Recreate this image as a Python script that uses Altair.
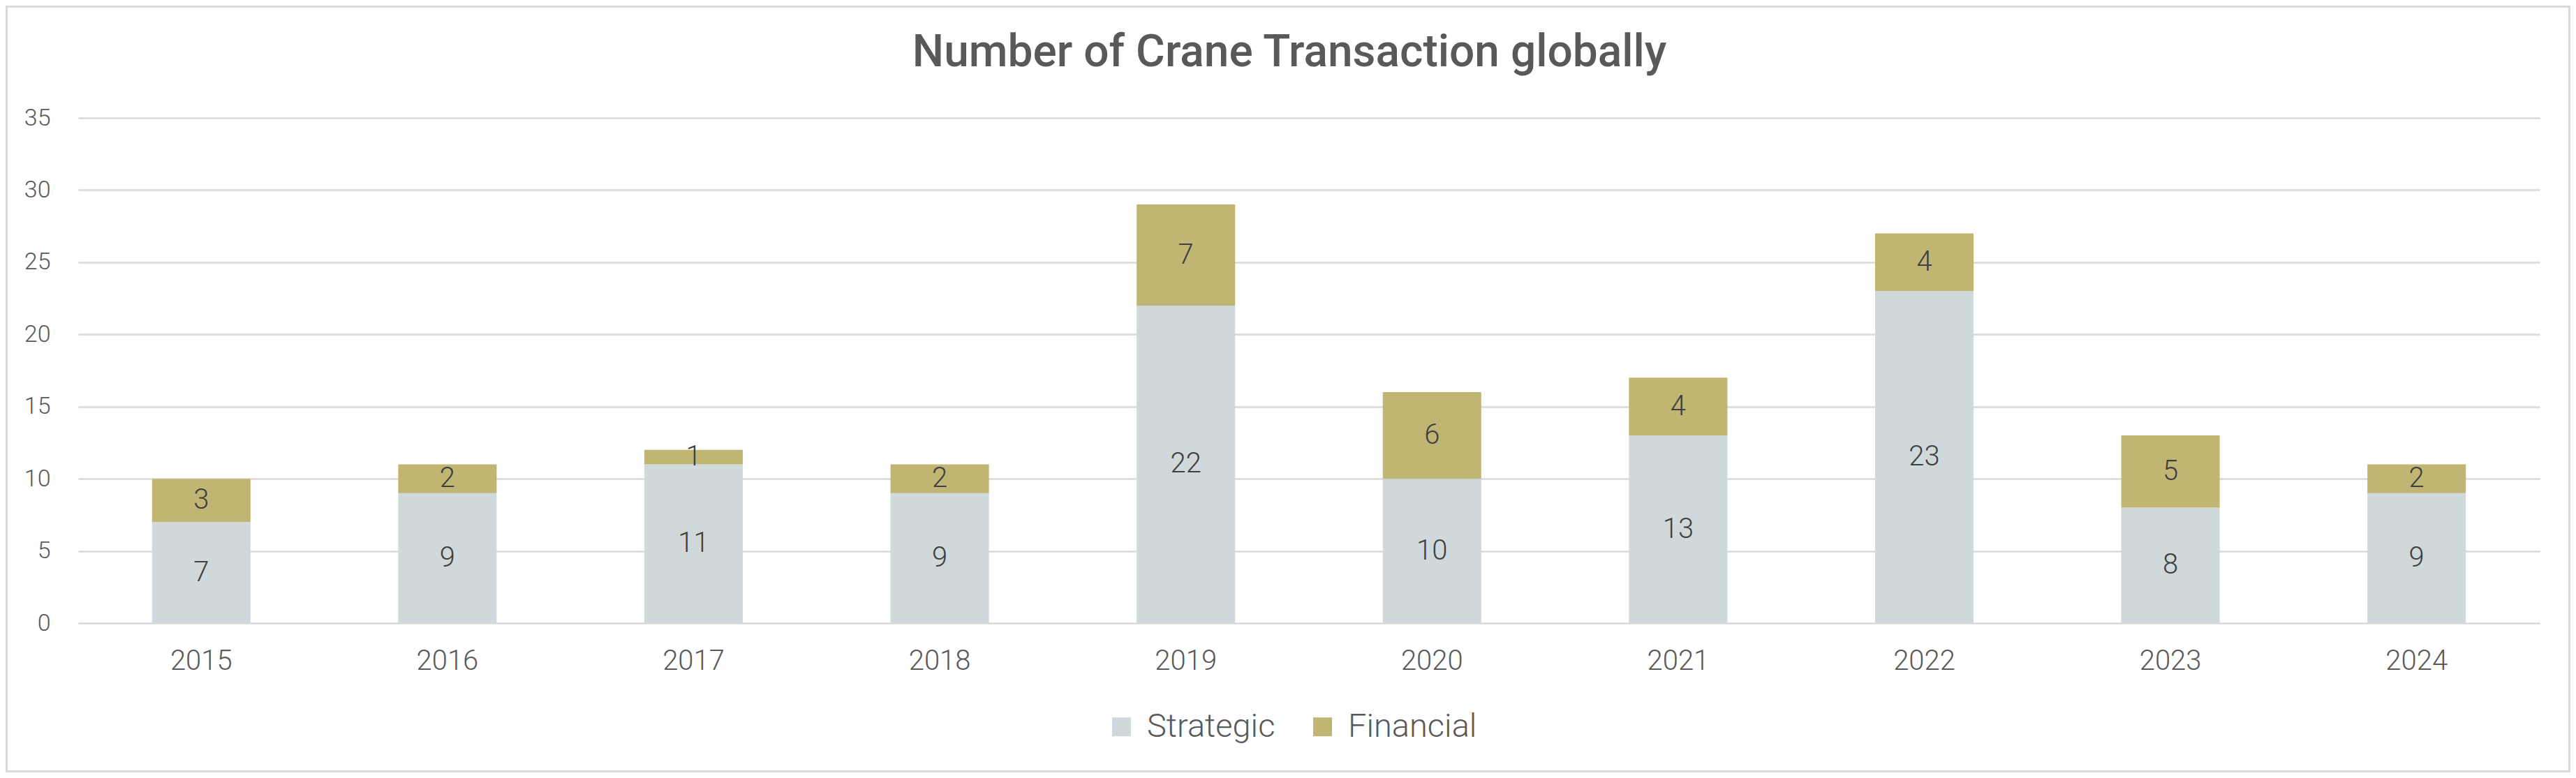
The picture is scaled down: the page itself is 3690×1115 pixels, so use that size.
import altair as alt
import pandas as pd

years = ["2015", "2016", "2017", "2018", "2019", "2020", "2021", "2022", "2023", "2024"]
strategic = [7, 9, 11, 9, 22, 10, 13, 23, 8, 9]
financial = [3, 2, 1, 2, 7, 6, 4, 4, 5, 2]
series = ["Strategic", "Financial"]
colors = ["#CFD8DA", "#C1B574"]
y_ticks = [0, 5, 10, 15, 20, 25, 30, 35]
title_text = "Number of Crane Transaction globally"

rows = []
for i, yr in enumerate(years):
    rows.append({"year": yr, "type": series[0], "value": strategic[i], "ord": 0})
    rows.append({"year": yr, "type": series[1], "value": financial[i], "ord": 1})
df = pd.DataFrame(rows)

W, H = 3526, 724
PL, PT, PR, PB = 104, 161, 44, 214
FONT = "Roboto"
LABEL_COLOR = "#595959"

base = alt.Chart(df).transform_stack(
    stack="value", groupby=["year"], as_=["v0", "v1"],
    sort=[alt.SortField("ord", order="ascending")]
).transform_calculate(mid="(datum.v0 + datum.v1) / 2")

x_axis = alt.Axis(title=None, labelAngle=0, labelFont=FONT, labelFontWeight=300,
                  labelFontSize=40, labelColor=LABEL_COLOR, labelPadding=34,
                  ticks=False, tickSize=0, domain=False, grid=False)
y_axis = alt.Axis(title=None, values=y_ticks, grid=True, gridColor="#D9D9D9",
                  gridWidth=2.5, domain=False, ticks=False, tickSize=0,
                  labelPadding=40, labelFont=FONT, labelFontWeight=300,
                  labelFontSize=34, labelColor=LABEL_COLOR)
x_scale = alt.Scale(paddingInner=0.6, paddingOuter=0.3)
y_scale = alt.Scale(domain=[0, 35], nice=False, zero=True)

bars = base.mark_bar().encode(
    x=alt.X("year:N", sort=years, scale=x_scale, axis=x_axis),
    y=alt.Y("v0:Q", scale=y_scale, axis=y_axis),
    y2="v1:Q",
    color=alt.Color("type:N", scale=alt.Scale(domain=series, range=colors),
                    legend=alt.Legend(title=None, orient="none", legendX=1471, legendY=849,
                                      direction="horizontal", symbolType="square",
                                      symbolSize=729, symbolStrokeWidth=0,
                                      labelFont=FONT, labelFontWeight=300, labelFontSize=47,
                                      labelColor=LABEL_COLOR, labelOffset=13, labelLimit=0,
                                      columnPadding=44)),
)

labels = base.mark_text(font=FONT, fontWeight=300, fontSize=40, color="#404040",
                        baseline="middle", align="center").encode(
    x=alt.X("year:N", sort=years, scale=x_scale, axis=x_axis),
    y=alt.Y("mid:Q", scale=y_scale, axis=y_axis),
    text="value:Q",
)

border = alt.Chart(pd.DataFrame({"k": [0]})).mark_rect(
    filled=False, stroke="#D9D9D9", strokeWidth=3
).encode(
    x=alt.value(-PL + 1.5), x2=alt.value(W + PR - 1.5),
    y=alt.value(-PT + 1.5), y2=alt.value(H + PB - 1.5),
)

chart = alt.layer(bars, labels, border).properties(
    width=W, height=H,
    padding={"left": PL, "top": PT, "right": PR, "bottom": PB},
    autosize=alt.AutoSizeParams(type="none"),
    title=alt.TitleParams(title_text, font=FONT, fontSize=64, fontWeight=500,
                          color=LABEL_COLOR, anchor="middle", frame="group",
                          baseline="alphabetic", offset=-151, dx=-28),
    background="white",
).configure_view(stroke=None)

chart.save("out.html", embed_options={"renderer": "svg", "actions": False})
